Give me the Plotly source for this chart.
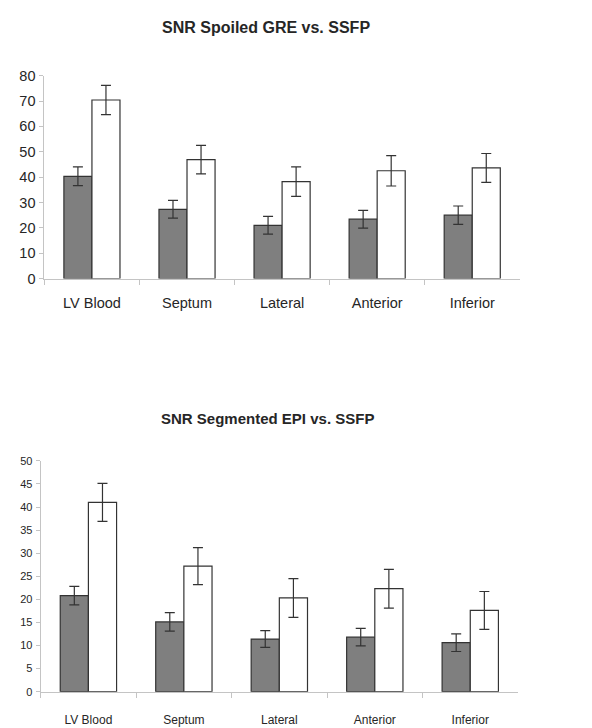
import plotly.graph_objects as go

# Regions of interest
regions = ["LV Blood", "Septum", "Lateral", "Anterior", "Inferior"]

# Spoiled GRE vs. SSFP: mean SNR and error
gre_snr = [40.3, 27.3, 21.0, 23.4, 25.0]
gre_err = [3.7, 3.5, 3.5, 3.5, 3.6]
ssfp_gre_snr = [70.4, 46.9, 38.2, 42.5, 43.6]
ssfp_gre_err = [5.8, 5.6, 5.8, 6.0, 5.7]

# Segmented EPI vs. SSFP: mean SNR and error
epi_snr = [20.8, 15.1, 11.4, 11.8, 10.6]
epi_err = [2.0, 2.0, 1.8, 1.9, 1.9]
ssfp_epi_snr = [41.0, 27.2, 20.3, 22.3, 17.6]
ssfp_epi_err = [4.1, 4.0, 4.2, 4.2, 4.1]

top_yticks = [0, 10, 20, 30, 40, 50, 60, 70, 80]
bottom_yticks = [0, 5, 10, 15, 20, 25, 30, 35, 40, 45, 50]

FONT = "Arial, Liberation Sans, sans-serif"
TEXT = "#262626"
DARK = "#7f7f7f"
EDGE = "#333333"
AXIS = "#c4c4c4"

fig = go.Figure()


def add_pair(vals_a, err_a, vals_b, err_b, xa, ya):
    for vals, err, fill in ((vals_a, err_a, DARK), (vals_b, err_b, "white")):
        fig.add_trace(go.Bar(
            x=regions, y=vals, xaxis=xa, yaxis=ya,
            marker=dict(color=fill, line=dict(color=EDGE, width=1.2)),
            error_y=dict(type="data", array=err, visible=True,
                         color=EDGE, thickness=1.2, width=5),
            showlegend=False,
        ))


add_pair(gre_snr, gre_err, ssfp_gre_snr, ssfp_gre_err, "x", "y")
add_pair(epi_snr, epi_err, ssfp_epi_snr, ssfp_epi_err, "x2", "y2")

xcommon = dict(type="category", tickson="boundaries", ticks="outside",
               ticklen=5, tickcolor=AXIS, showline=True, linecolor=AXIS,
               linewidth=1, showgrid=False, zeroline=False)
ycommon = dict(ticks="outside", ticklen=4, tickcolor=AXIS, showline=True,
               linecolor=AXIS, linewidth=1, showgrid=False, zeroline=False)

fig.update_layout(
    width=592, height=728,
    margin=dict(l=0, r=0, t=0, b=0),
    paper_bgcolor="white", plot_bgcolor="white",
    barmode="group", bargap=0.41, bargroupgap=0,
    font=dict(family=FONT, color=TEXT),
    xaxis=dict(domain=[0.075, 0.878], anchor="y",
               tickfont=dict(size=14.5, color=TEXT),
               ticklabelstandoff=11, **xcommon),
    yaxis=dict(domain=[0.620, 0.905], anchor="x", range=[0, 80],
               tickvals=top_yticks, tickfont=dict(size=14.5, color=TEXT),
               ticklabelstandoff=1, **ycommon),
    xaxis2=dict(domain=[0.0687, 0.875], anchor="y2",
                tickfont=dict(size=12, color=TEXT),
                ticklabelstandoff=17, **xcommon),
    yaxis2=dict(domain=[0.0398, 0.364], anchor="x2", range=[0, 50],
                tickvals=bottom_yticks, tickfont=dict(size=11, color=TEXT),
                ticklabelstandoff=1, **ycommon),
    annotations=[
        dict(text="<b>SNR Spoiled GRE vs. SSFP</b>", x=266 / 592, y=1 - 20 / 728,
             xref="paper", yref="paper", xanchor="center", yanchor="middle",
             showarrow=False, font=dict(size=16, family=FONT, color=TEXT)),
        dict(text="<b>SNR Segmented EPI vs. SSFP</b>", x=267 / 592, y=1 - 420 / 728,
             xref="paper", yref="paper", xanchor="center", yanchor="middle",
             showarrow=False, font=dict(size=15, family=FONT, color=TEXT)),
    ],
)

fig.write_html("out.html")
